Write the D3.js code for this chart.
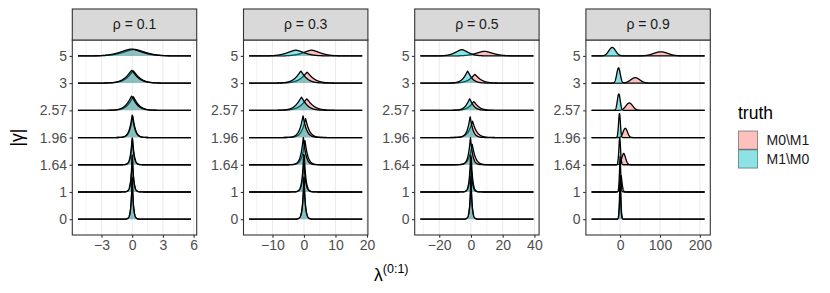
<!doctype html>
<meta charset="utf8">
<style>
  body { margin: 0; background: #fff; }
  text { font-family: "Liberation Sans", Arial, sans-serif; }
</style>

<body>

<div id="chart"></div>

<script src="https://d3js.org/d3.v7.min.js"></script>

<script>
(function() {

const FACETS = ["0.1", "0.3", "0.5", "0.9"];
const GAMMA = ["0", "1", "1.64", "1.96", "2.57", "3", "5"];
const GROUPS = ["M0\\M1", "M1\\M0"];
const COLORS = ["#F8766D", "#00BFC4"];

const X_EXTENT = [[-5.3, 5.75], [-17.4, 18.5], [-31.9, 39.4], [-71.6, 212]];
const X_TICKS = [[-3, 0, 3, 6], [-10, 0, 10, 20], [-20, 0, 20, 40], [0, 100, 200]];
const X_MINOR = [[-4.5, -1.5, 1.5, 4.5], [-15, -5, 5, 15], [-30, -10, 10, 30], [-50, 50, 150]];

// ridges, one row per facet, values ordered like GAMMA
// centre on the λ axis, spread in λ units, peak height in row spacings
const M0_CENTER = [
  [0, 0.02, 0.03, 0.05, 0.1, 0.1, 0.2],
  [0, 0.1, 0.3, 0.5, 0.9, 1.0, 2.4],
  [0, 0.2, 0.8, 1.0, 1.8, 2.5, 8.5],
  [0.5, 2.5, 9, 13, 23, 38, 102],
];
const M0_SPREAD = [
  [0.11, 0.127, 0.17, 0.27, 0.57, 0.71, 1.48],
  [0.42, 0.52, 0.9, 1.2, 2.2, 2.3, 3.7],
  [0.7, 0.9, 2.0, 2.6, 3.3, 4.0, 7.3],
  [2.2, 3.5, 6.8, 7.6, 12, 16, 25],
];
const M0_HEIGHT = [
  [1.55, 1.35, 0.97, 0.8, 0.5, 0.45, 0.24],
  [1.55, 1.35, 0.9, 0.7, 0.42, 0.4, 0.21],
  [1.5, 1.3, 0.75, 0.6, 0.32, 0.32, 0.17],
  [1.3, 0.6, 0.42, 0.34, 0.27, 0.2, 0.15],
];
const M1_CENTER = [
  [0, 0, 0, 0, -0.05, -0.05, -0.1],
  [0, -0.1, -0.2, -0.3, -0.8, -1.0, -2.6],
  [0, -0.2, -0.3, -0.5, -0.8, -2.1, -5.8],
  [0, 0, -1, -1.6, -3.3, -4, -19.8],
];
const M1_SPREAD = [
  [0.11, 0.127, 0.17, 0.27, 0.57, 0.71, 1.48],
  [0.42, 0.5, 0.82, 1.1, 1.9, 2.0, 3.7],
  [0.68, 0.85, 1.4, 1.8, 2.7, 3.0, 5.6],
  [2.0, 2.3, 3.0, 3.3, 5.1, 6.2, 12],
];
const M1_HEIGHT = [
  [1.6, 1.4, 1.0, 0.83, 0.52, 0.47, 0.25],
  [1.6, 1.4, 1.0, 0.8, 0.48, 0.44, 0.21],
  [1.6, 1.4, 1.0, 0.77, 0.42, 0.44, 0.23],
  [1.6, 1.3, 1.0, 0.88, 0.6, 0.56, 0.31],
];
const SHAPE = [
  [1, 1, 1.1, 1.1, 1.2, 1.2, 1.6],
  [1, 1, 1.1, 1.1, 1.2, 1.2, 1.6],
  [1, 1, 1.1, 1.1, 1.2, 1.2, 1.6],
  [1.4, 1.5, 1.8, 2, 2, 2, 2],
];

const WIDTH = 830;
const HEIGHT = 293;
const PANEL = {left: 72.3, step: 171.2, width: 124.4, top: 40, bottom: 235, stripTop: 9};
const ALPHA = 0.45;
const SMALL = 14;
const LARGE = 17.5;

const svg = d3.select("#chart").append("svg")
  .attr("width", WIDTH)
  .attr("height", HEIGHT);

const y = d3.scalePoint()
  .domain(GAMMA)
  .range([219.2, 55.9]);
const rowStep = y.step();

function density(center, spread, height, shape) {
  return v => height * rowStep * Math.exp(-Math.pow(Math.abs((v - center) / spread), shape));
}

function drawPanel(rho, i) {
  const left = PANEL.left + i * PANEL.step;
  const [lo, hi] = X_EXTENT[i];
  const pad = (hi - lo) * 0.05;
  const x = d3.scaleLinear()
    .domain([lo - pad, hi + pad])
    .range([left, left + PANEL.width]);

  const g = svg.append("g");

  g.selectAll(".minor")
    .data(X_MINOR[i])
    .join("line")
      .attr("class", "minor")
      .attr("x1", x).attr("x2", x)
      .attr("y1", PANEL.top).attr("y2", PANEL.bottom)
      .attr("stroke", "#EBEBEB").attr("stroke-width", 0.6);

  g.selectAll(".major")
    .data(X_TICKS[i])
    .join("line")
      .attr("class", "major")
      .attr("x1", x).attr("x2", x)
      .attr("y1", PANEL.top).attr("y2", PANEL.bottom)
      .attr("stroke", "#EBEBEB").attr("stroke-width", 1.1);

  const xs = d3.range(0, 1201).map(k => lo + (hi - lo) * k / 1200);

  // top rows first so that lower ridges sit in front
  for (let j = GAMMA.length - 1; j >= 0; j--) {
    const base = y(GAMMA[j]);
    const ridges = [
      density(M0_CENTER[i][j], M0_SPREAD[i][j], M0_HEIGHT[i][j], SHAPE[i][j]),
      density(M1_CENTER[i][j], M1_SPREAD[i][j], M1_HEIGHT[i][j], SHAPE[i][j]),
    ];
    ridges.forEach((f, k) => {
      const pts = xs.map(v => [v, f(v)]);
      g.append("path")
        .datum(pts)
        .attr("fill", COLORS[k])
        .attr("fill-opacity", ALPHA)
        .attr("d", d3.area().x(d => x(d[0])).y0(base).y1(d => base - d[1]));
      g.append("path")
        .datum(pts)
        .attr("fill", "none")
        .attr("stroke", "#000")
        .attr("stroke-width", 1.3)
        .attr("stroke-linejoin", "round")
        .attr("d", d3.line().x(d => x(d[0])).y(d => base - d[1]));
    });
  }

  g.append("rect")
    .attr("x", left).attr("y", PANEL.top)
    .attr("width", PANEL.width).attr("height", PANEL.bottom - PANEL.top)
    .attr("fill", "none").attr("stroke", "#333").attr("stroke-width", 1.1);

  // strip
  g.append("rect")
    .attr("x", left).attr("y", PANEL.stripTop)
    .attr("width", PANEL.width).attr("height", PANEL.top - PANEL.stripTop)
    .attr("fill", "#D9D9D9").attr("stroke", "#333").attr("stroke-width", 1.1);
  g.append("text")
    .attr("x", left + PANEL.width / 2)
    .attr("y", (PANEL.top + PANEL.stripTop) / 2)
    .attr("dy", "0.35em")
    .attr("text-anchor", "middle")
    .attr("font-size", SMALL)
    .attr("fill", "#1A1A1A")
    .text(`ρ = ${rho}`);

  const xAxis = g.append("g")
    .attr("transform", `translate(0,${PANEL.bottom})`)
    .call(d3.axisBottom(x).tickValues(X_TICKS[i]).tickSize(2.75).tickPadding(2.5));
  const yAxis = g.append("g")
    .attr("transform", `translate(${left},0)`)
    .call(d3.axisLeft(y).tickSize(2.75).tickPadding(2.5));

  for (let axis of [xAxis, yAxis]) {
    axis.attr("font-family", null).attr("font-size", null);
    axis.select(".domain").remove();
    axis.selectAll("line").attr("stroke", "#333").attr("stroke-width", 1.1);
    axis.selectAll("text")
      .attr("fill", "#4D4D4D")
      .attr("font-size", SMALL);
  }
}

FACETS.forEach(drawPanel);

// axis titles
svg.append("text")
  .attr("transform", `translate(23,${(PANEL.top + PANEL.bottom) / 2}) rotate(-90)`)
  .attr("text-anchor", "middle")
  .attr("font-size", LARGE)
  .text("|γ|");

const xTitle = svg.append("text")
  .attr("x", PANEL.left + (3 * PANEL.step + PANEL.width) / 2)
  .attr("y", 281)
  .attr("text-anchor", "middle")
  .attr("font-size", LARGE);
xTitle.append("tspan").text("λ");
xTitle.append("tspan")
  .attr("font-size", 12.5)
  .attr("dy", -8)
  .text("(0:1)");

// legend
const legend = svg.append("g").attr("transform", "translate(738,0)");
legend.append("text")
  .attr("x", 0).attr("y", 119)
  .attr("font-size", LARGE)
  .text("truth");
GROUPS.forEach((name, k) => {
  legend.append("rect")
    .attr("x", 0.5).attr("y", 131 + k * 18.8)
    .attr("width", 19).attr("height", 18.3)
    .attr("fill", COLORS[k]).attr("fill-opacity", ALPHA)
    .attr("stroke", "rgba(0,0,0,0.4)").attr("stroke-width", 1);
  legend.append("text")
    .attr("x", 28.5).attr("y", 131 + k * 18.8 + 9.2)
    .attr("dy", "0.35em")
    .attr("font-size", SMALL)
    .attr("fill", "#1A1A1A")
    .text(name);
});

})();
</script>
